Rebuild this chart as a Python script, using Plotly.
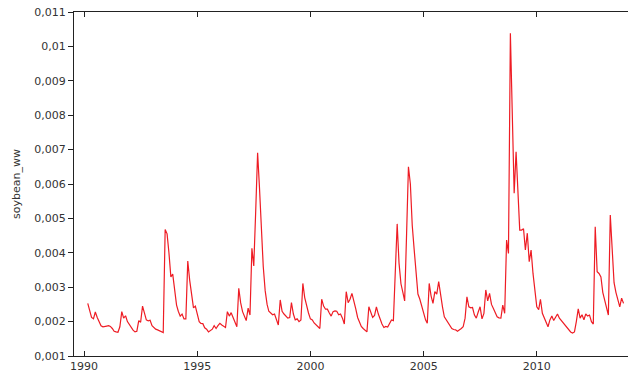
import pandas as pd
import plotly.graph_objects as go

# ---- data -------------------------------------------------------------
start_month = "1990-03-01"          # first monthly observation
series_name = "soybean_ww"

soybean_ww = [
    # 1990 (Mar-Dec)
    0.00253, 0.00235, 0.00212, 0.00208, 0.00228, 0.00212, 0.00198, 0.00188, 0.00185, 0.00187,
    # 1991
    0.00187, 0.00188, 0.00186, 0.00180, 0.00172, 0.00170, 0.00169, 0.00185, 0.00229, 0.00210, 0.00217, 0.00200,
    # 1992
    0.00190, 0.00181, 0.00175, 0.00170, 0.00172, 0.00203, 0.00198, 0.00245, 0.00222, 0.00205, 0.00202, 0.00204,
    # 1993
    0.00188, 0.00183, 0.00178, 0.00176, 0.00173, 0.00170, 0.00168, 0.00468, 0.00455, 0.00400, 0.00330, 0.00338,
    # 1994
    0.00300, 0.00248, 0.00230, 0.00216, 0.00222, 0.00208, 0.00208, 0.00376, 0.00320, 0.00280, 0.00240, 0.00245,
    # 1995
    0.00220, 0.00200, 0.00195, 0.00194, 0.00182, 0.00178, 0.00170, 0.00173, 0.00178, 0.00188, 0.00180, 0.00188,
    # 1996
    0.00195, 0.00190, 0.00186, 0.00183, 0.00229, 0.00216, 0.00226, 0.00212, 0.00203, 0.00185, 0.00297, 0.00255,
    # 1997
    0.00229, 0.00216, 0.00203, 0.00239, 0.00219, 0.00413, 0.00362, 0.00520, 0.00691, 0.00590, 0.00470, 0.00360,
    # 1998
    0.00290, 0.00250, 0.00230, 0.00226, 0.00220, 0.00222, 0.00205, 0.00190, 0.00263, 0.00230, 0.00222, 0.00215,
    # 1999
    0.00210, 0.00212, 0.00255, 0.00222, 0.00205, 0.00208, 0.00200, 0.00205, 0.00311, 0.00270, 0.00243, 0.00225,
    # 2000
    0.00208, 0.00205, 0.00196, 0.00190, 0.00185, 0.00180, 0.00265, 0.00245, 0.00236, 0.00236, 0.00225, 0.00216,
    # 2001
    0.00229, 0.00231, 0.00230, 0.00220, 0.00222, 0.00210, 0.00193, 0.00287, 0.00255, 0.00265, 0.00282, 0.00255,
    # 2002
    0.00238, 0.00212, 0.00198, 0.00186, 0.00180, 0.00176, 0.00170, 0.00243, 0.00225, 0.00212, 0.00218, 0.00243,
    # 2003
    0.00222, 0.00205, 0.00193, 0.00183, 0.00186, 0.00184, 0.00195, 0.00205, 0.00203, 0.00350, 0.00484, 0.00370,
    # 2004
    0.00310, 0.00285, 0.00260, 0.00455, 0.00650, 0.00600, 0.00480, 0.00410, 0.00340, 0.00280, 0.00265, 0.00245,
    # 2005
    0.00225, 0.00205, 0.00195, 0.00311, 0.00275, 0.00253, 0.00287, 0.00280, 0.00316, 0.00272, 0.00243, 0.00214,
    # 2006
    0.00205, 0.00196, 0.00190, 0.00180, 0.00177, 0.00176, 0.00172, 0.00175, 0.00180, 0.00185, 0.00210, 0.00272,
    # 2007
    0.00243, 0.00240, 0.00241, 0.00219, 0.00210, 0.00228, 0.00243, 0.00208, 0.00224, 0.00292, 0.00260, 0.00282,
    # 2008
    0.00250, 0.00238, 0.00228, 0.00214, 0.00211, 0.00210, 0.00248, 0.00224, 0.00437, 0.00398, 0.01038, 0.00800,
    # 2009
    0.00573, 0.00694, 0.00602, 0.00466, 0.00466, 0.00470, 0.00408, 0.00457, 0.00374, 0.00408, 0.00340, 0.00300,
    # 2010
    0.00243, 0.00235, 0.00265, 0.00224, 0.00212, 0.00195, 0.00185, 0.00205, 0.00216, 0.00203, 0.00215, 0.00222,
    # 2011
    0.00210, 0.00203, 0.00195, 0.00190, 0.00182, 0.00176, 0.00170, 0.00167, 0.00170, 0.00200, 0.00237, 0.00210,
    # 2012
    0.00220, 0.00205, 0.00222, 0.00216, 0.00219, 0.00200, 0.00193, 0.00476, 0.00345, 0.00340, 0.00330, 0.00285,
    # 2013 (Jan-Nov)
    0.00262, 0.00240, 0.00219, 0.00510, 0.00398, 0.00313, 0.00285, 0.00262, 0.00243, 0.00268, 0.00253,
]

x_tick_years = [1990, 1995, 2000, 2005, 2010]
x_tick_labels = ["1990", "1995", "2000", "2005", "2010"]
y_tick_values = [0.001, 0.002, 0.003, 0.004, 0.005, 0.006, 0.007, 0.008, 0.009, 0.010, 0.011]
y_tick_labels = ["0,001", "0,002", "0,003", "0,004", "0,005", "0,006",
                 "0,007", "0,008", "0,009", "0,01", "0,011"]

# ---- figure -----------------------------------------------------------
dates = pd.date_range(start_month, periods=len(soybean_ww), freq="MS")

fig = go.Figure()
fig.add_trace(go.Scatter(
    x=dates, y=soybean_ww, mode="lines",
    line=dict(color="#ee1c24", width=1.2),
    showlegend=False, hoverinfo="x+y",
))

font_family = "DejaVu Sans, Verdana, sans-serif"
axis_col = "#222222"

fig.update_layout(
    width=628, height=379,
    margin=dict(l=74, r=0, t=12, b=23),
    paper_bgcolor="white", plot_bgcolor="white",
    font=dict(family=font_family, size=11, color="#333333"),
    showlegend=False,
)

fig.update_xaxes(
    type="date",
    range=["1989-07-22", "2014-01-12"],
    tickvals=[f"{y}-01-01" for y in x_tick_years],
    ticktext=x_tick_labels,
    ticks="inside", ticklen=5, tickwidth=1, tickcolor=axis_col,
    showline=True, linecolor=axis_col, linewidth=1,
    mirror="ticks",
    showgrid=False, zeroline=False, automargin=False,
    tickfont=dict(family=font_family, size=11, color="#333333"),
)

fig.update_yaxes(
    range=[0.001, 0.011],
    tickvals=y_tick_values,
    ticktext=y_tick_labels,
    ticks="outside", ticklen=5, tickwidth=1, tickcolor=axis_col,
    showline=True, linecolor=axis_col, linewidth=1,
    showgrid=False, zeroline=False, automargin=False,
    tickfont=dict(family=font_family, size=11, color="#333333"),
)

fig.add_annotation(
    text=series_name, textangle=-90,
    xref="paper", yref="paper", x=-58 / 554, y=0.5,
    xanchor="center", yanchor="middle", showarrow=False,
    font=dict(family=font_family, size=11, color="#333333"),
)

# remove the browser's default 8px body margin so the figure sits at (0, 0)
fig.write_html(
    "out.html",
    config={"displayModeBar": False},
    post_script="document.body.style.margin='0';document.body.style.overflow='hidden';",
)
